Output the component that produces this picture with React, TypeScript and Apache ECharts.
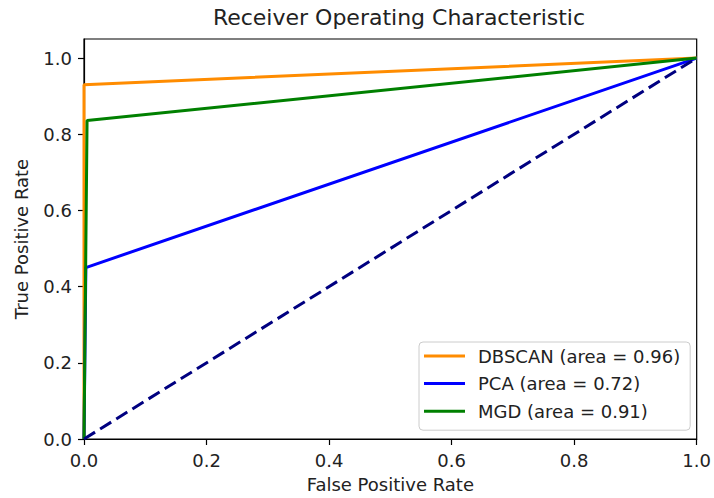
import React, { useEffect, useRef } from "react";
import * as echarts from "echarts";

const seriesNames = ["DBSCAN (area = 0.96)", "PCA (area = 0.72)", "MGD (area = 0.91)"];
const seriesColors = ["#ff8c00", "#0000ff", "#008000"];
const dbscanFpr = [0, 0, 1];
const dbscanTpr = [0, 0.93, 1];
const pcaFpr = [0, 0.003, 1];
const pcaTpr = [0, 0.45, 1];
const mgdFpr = [0, 0.005, 1];
const mgdTpr = [0, 0.836, 1];
const chanceFpr = [0, 1];
const chanceTpr = [0, 1];
const xTicks = [0, 0.2, 0.4, 0.6, 0.8, 1.0];
const yTicks = [0, 0.2, 0.4, 0.6, 0.8, 1.0];

const FONT = "DejaVu Sans";
const TXT = "#222";

const pairs = (xs: number[], ys: number[]) => xs.map((x, i) => [x, ys[i]]);

export default function App() {
  const ref = useRef<HTMLDivElement>(null);
  useEffect(() => {
    if (!ref.current) return;
    const chart = echarts.init(ref.current, null, { renderer: "svg" });
    const curves = [
      pairs(dbscanFpr, dbscanTpr),
      pairs(pcaFpr, pcaTpr),
      pairs(mgdFpr, mgdTpr),
    ];
    const axisCommon = {
      axisLine: { show: true, lineStyle: { color: "#000", width: 1.2 } },
      axisTick: { show: true, inside: false, length: 6, lineStyle: { color: "#000", width: 1.2 } },
      splitLine: { show: false },
      nameTextStyle: { fontFamily: FONT, fontSize: 18, color: TXT },
    };
    chart.setOption({
      animation: false,
      backgroundColor: "#fff",
      title: {
        text: "Receiver Operating Characteristic",
        left: 394,
        top: 1,
        textAlign: "center",
        textStyle: { fontFamily: FONT, fontSize: 22, fontWeight: "normal", color: TXT },
      },
      grid: {
        left: 84,
        right: 13,
        top: 39,
        bottom: 59,
        show: true,
        borderColor: "#000",
        borderWidth: 1.2,
        backgroundColor: "transparent",
      },
      legend: {
        orient: "vertical",
        left: 419,
        top: 342,
        data: seriesNames,
        icon: "rect",
        itemWidth: 41,
        itemHeight: 3,
        itemGap: 9.6,
        padding: [5, 10, 10, 5],
        backgroundColor: "rgba(255,255,255,0.8)",
        borderColor: "#cccccc",
        borderWidth: 1,
        borderRadius: 4,
        textStyle: {
          fontFamily: FONT,
          fontSize: 18,
          lineHeight: 18,
          color: TXT,
          padding: [0, 0, 0, 8],
        },
      },
      xAxis: {
        type: "value",
        min: 0,
        max: 1,
        interval: 0.2,
        name: "False Positive Rate",
        nameLocation: "middle",
        nameGap: 36,
        ...axisCommon,
        axisLabel: {
          margin: 12,
          fontFamily: FONT,
          fontSize: 18,
          color: TXT,
          customValues: xTicks,
          formatter: (v: number) => v.toFixed(1),
        },
        axisTick: { ...axisCommon.axisTick, customValues: xTicks },
      },
      yAxis: {
        type: "value",
        min: 0,
        max: 1.05,
        name: "True Positive Rate",
        nameLocation: "middle",
        nameGap: 54,
        ...axisCommon,
        axisLabel: {
          margin: 12,
          fontFamily: FONT,
          fontSize: 18,
          color: TXT,
          customValues: yTicks,
          formatter: (v: number) => v.toFixed(1),
        },
        axisTick: { ...axisCommon.axisTick, customValues: yTicks },
      },
      series: [
        ...seriesNames.map((name, i) => ({
          name,
          type: "line",
          data: curves[i],
          showSymbol: false,
          symbol: "none",
          clip: false,
          color: seriesColors[i],
          lineStyle: { color: seriesColors[i], width: 3 },
          z: 2 + i,
        })),
        {
          name: "chance",
          type: "line",
          data: pairs(chanceFpr, chanceTpr),
          showSymbol: false,
          symbol: "none",
          color: "#000080",
          lineStyle: { color: "#000080", width: 3, type: [13, 6] },
          z: 6,
        },
      ],
    });
    return () => chart.dispose();
  }, []);
  return (
    <div
      ref={ref}
      style={{ position: "absolute", left: 0, top: 0, width: 714, height: 498 }}
    />
  );
}
